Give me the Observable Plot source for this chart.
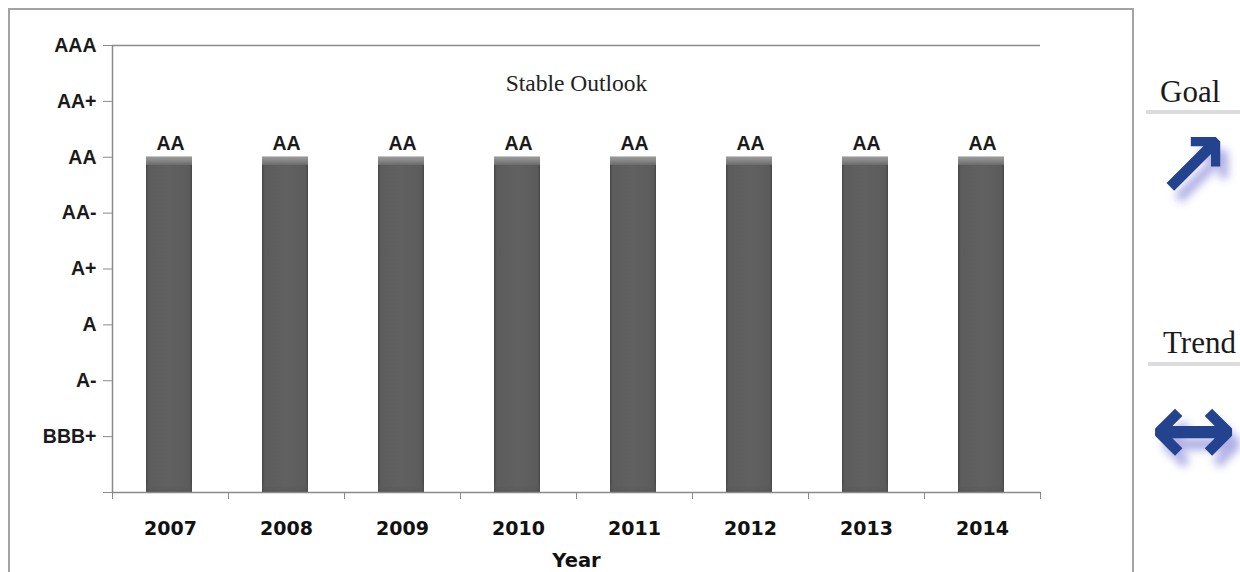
<!DOCTYPE html>
<html>
<head>
<meta charset="utf-8">
<script src="https://cdn.jsdelivr.net/npm/d3@7"></script>
<script src="https://cdn.jsdelivr.net/npm/@observablehq/plot@0.6"></script>
<style>
  html, body { margin: 0; padding: 0; background: #fff; }
  #wrap { position: relative; width: 1240px; height: 572px; overflow: hidden; background: #fff; }
  #frame { position: absolute; left: 8px; top: 8px; width: 1126px; height: 640px; border: 2px solid #a3a3a3; box-sizing: border-box; }
  #chart { position: absolute; left: 0; top: 0; }
  .side { position: absolute; font-family: "Liberation Serif", "Times New Roman", serif; font-size: 31px; color: #1a1a1a; }
  .bar-line { position: absolute; height: 4px; background: #dcdcdc; }
  .arrow { position: absolute; font-family: "DejaVu Sans", sans-serif; font-weight: bold; color: #23438f;
           text-shadow: 8px 12px 8px rgba(80, 80, 200, 0.45); line-height: 1; }
  g[aria-label="bar"] rect { filter: drop-shadow(2px 2px 2px rgba(0,0,0,0.3)); }
</style>
</head>
<body>
<div id="wrap">
  <div id="frame"></div>
  <div id="chart"></div>
  <div class="side" id="goalT" style="left:1160px; top:74px;">Goal</div>
  <div class="bar-line" style="left:1146px; top:110px; width:94px;"></div>
  <div class="arrow" id="goalA" style="left:1154px; top:120px; font-size:92px;">↗</div>
  <div class="side" id="trendT" style="left:1163px; top:325px;">Trend</div>
  <div class="bar-line" style="left:1148px; top:362px; width:92px;"></div>
  <div class="arrow" id="trendA" style="left:1150px; top:377px; font-size:104px;">↔</div>
</div>
<script>
// ---- data ----
const years = [2007, 2008, 2009, 2010, 2011, 2012, 2013, 2014];
const ratings = ["AA", "AA", "AA", "AA", "AA", "AA", "AA", "AA"];
const ratingScale = ["BBB+", "A-", "A", "A+", "AA-", "AA", "AA+", "AAA"];
const xTitle = "Year";
const note = "Stable Outlook";

const data = years.map((y, i) => ({
  year: y,
  rating: ratings[i],
  value: ratingScale.indexOf(ratings[i]) + 1
}));

const yTicks = d3.range(0, ratingScale.length + 1);
const xBounds = d3.range(years[0] - 0.5, years[years.length - 1] + 1, 1);

const axisGray = "#8a8a8a";

const chart = Plot.plot({
  width: 1240,
  height: 572,
  marginLeft: 112,
  marginRight: 200,
  marginTop: 45,
  marginBottom: 80,
  style: { background: "transparent", fontFamily: "'Liberation Sans', Arial, sans-serif", color: "#111" },
  x: { type: "linear", domain: [xBounds[0], xBounds[xBounds.length - 1]] },
  y: { domain: [0, ratingScale.length] },
  marks: [
    Plot.ruleY([ratingScale.length], { stroke: axisGray, strokeWidth: 1.5 }),
    Plot.rectY(data, {
      x1: d => d.year - 0.5, x2: d => d.year + 0.5, y: "value",
      insetLeft: 34, insetRight: 36, fill: "url(#barH)", ariaLabel: "bar"
    }),
    Plot.rectY(data, {
      x1: d => d.year - 0.5, x2: d => d.year + 0.5, y: "value",
      insetLeft: 34, insetRight: 36, fill: "url(#barTop)", ariaLabel: "bevel"
    }),
    Plot.text(data, {
      x: "year", y: "value", text: "rating", dy: -14,
      fontSize: 19.5, fontWeight: "bold", fill: "#1a1a1a"
    }),
    Plot.ruleX([xBounds[0]], { stroke: axisGray, strokeWidth: 1.5 }),
    Plot.ruleY([0], { stroke: axisGray, strokeWidth: 1.5 }),
    Plot.axisY({
      ticks: yTicks, tickSize: 9, tickPadding: 7,
      tickFormat: d => d === 0 ? "" : ratingScale[d - 1],
      fontSize: 19.5, fontWeight: "bold", stroke: axisGray, fill: "#1a1a1a", label: null
    }),
    Plot.axisX({
      ticks: xBounds, tickSize: 7, tickFormat: () => "", stroke: axisGray, label: null
    }),
    Plot.axisX({
      ticks: years, tickSize: 0, tickPadding: 29, tickFormat: d => String(d),
      fontSize: 19, fontWeight: "bold", fontFamily: "'DejaVu Sans', sans-serif",
      fill: "#111", label: null
    }),
    Plot.text([xTitle], {
      frameAnchor: "bottom", dy: 74, fontSize: 19.5, fontWeight: "bold",
      fontFamily: "'DejaVu Sans', sans-serif", fill: "#111"
    }),
    Plot.text([note], {
      frameAnchor: "top", dy: 38, fontSize: 23.5, lineAnchor: "middle",
      fontFamily: "'Liberation Serif', 'Times New Roman', serif", fill: "#222"
    })
  ]
});

const svg = d3.select(chart);
const defs = svg.insert("defs", ":first-child");
const gH = defs.append("linearGradient").attr("id", "barH").attr("x1", 0).attr("x2", 1).attr("y1", 0).attr("y2", 0);
[["0%", "#474747"], ["6%", "#5c5c5c"], ["50%", "#616161"], ["94%", "#5c5c5c"], ["100%", "#474747"]]
  .forEach(([o, c]) => gH.append("stop").attr("offset", o).attr("stop-color", c));
const gT = defs.append("linearGradient").attr("id", "barTop").attr("x1", 0).attr("x2", 0).attr("y1", 0).attr("y2", 1);
[["0%", "#9a9a9a", 1], ["1%", "#8a8a8a", 1], ["2.4%", "#6c6c6c", 1], ["2.5%", "#616161", 0], ["97.5%", "#616161", 0], ["100%", "#505050", 0.6]]
  .forEach(([o, c, a]) => gT.append("stop").attr("offset", o).attr("stop-color", c).attr("stop-opacity", a));

document.getElementById("chart").appendChild(chart);
</script>
</body>
</html>
